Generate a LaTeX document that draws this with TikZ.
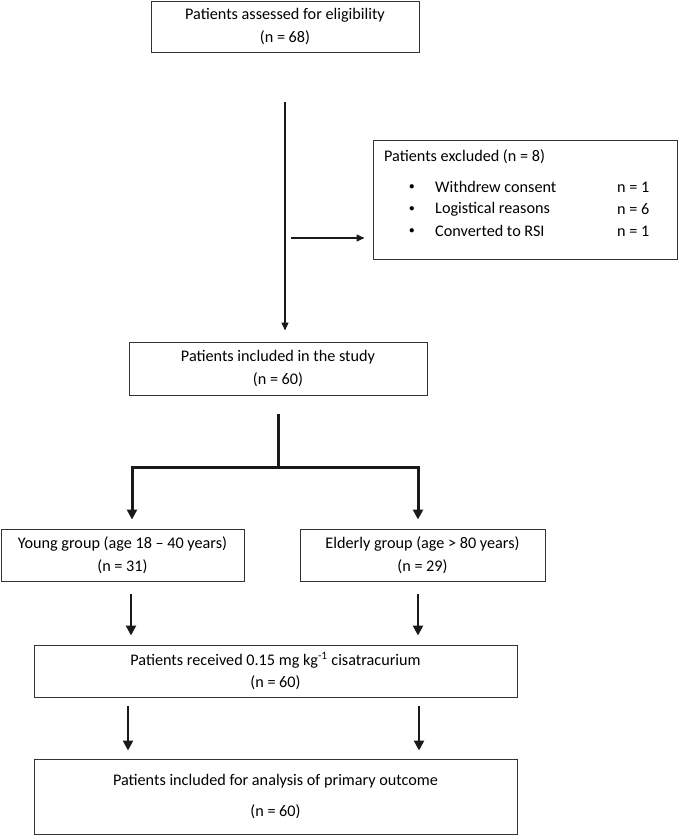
\documentclass[tikz,border=0pt]{standalone}
\usepackage{fontspec}
\setmainfont{Carlito}
\usetikzlibrary{arrows.meta,calc}
\newcommand{\fs}{\fontsize{16.2}{22.5}\selectfont}
\tikzset{
  box/.style={draw=black!80, line width=1pt, align=center, inner sep=0pt, font=\fs, text=black},
  lbl/.style={inner sep=0pt, anchor=west, font=\fs, text=black},
  thinarr/.style={line width=1.4pt, draw=black!90, -{Triangle[length=8pt,width=7pt]}},
  thickline/.style={line width=3pt, draw=black!90},
  thickarr/.style={line width=3pt, draw=black!90, -{Triangle[length=10pt,width=10pt]}},
  medarr/.style={line width=2.6pt, draw=black!90, -{Triangle[length=10pt,width=10pt]}},
}
\begin{document}
\begin{tikzpicture}[x=1pt,y=-1pt]
\useasboundingbox (0,0) rectangle (685,835);
% boxes
\node[box, minimum width=268pt, minimum height=51pt] (assess) at (285,26.5) {Patients assessed for eligibility\\(n = 68)};
\node[box, minimum width=304pt, minimum height=119pt] (excl) at (525,199.5) {};
\node[lbl] (exh) at (384,157) {Patients excluded (n = 8)};
\node[lbl, font=\fontsize{11}{12}\selectfont] (b1) at (409,187) {$\bullet$};
\node[lbl, font=\fontsize{11}{12}\selectfont] (b2) at (409,209) {$\bullet$};
\node[lbl, font=\fontsize{11}{12}\selectfont] (b3) at (409,231) {$\bullet$};
\node[lbl] (r1) at (435,187) {Withdrew consent};
\node[lbl] (r2) at (435,209) {Logistical reasons};
\node[lbl] (r3) at (435,231) {Converted to RSI};
\node[lbl] (n1) at (617,187) {n = 1};
\node[lbl] (n2) at (617,209) {n = 6};
\node[lbl] (n3) at (617,231) {n = 1};
\node[box, minimum width=298pt, minimum height=53pt] (incl) at (278,368.5) {Patients included in the study\\(n = 60)};
\node[box, minimum width=243pt, minimum height=52pt] (young) at (122.5,555) {Young group (age 18 – 40 years)\\(n = 31)};
\node[box, minimum width=245pt, minimum height=52pt] (old) at (422.5,555) {Elderly group (age > 80 years)\\(n = 29)};
\node[box, minimum width=483pt, minimum height=52pt] (recv) at (275.5,671) {Patients received 0.15 mg kg\textsuperscript{-1} cisatracurium\\(n = 60)};
\node[box, minimum width=483pt, minimum height=75pt] (final) at (275.5,796.5) {Patients included for analysis of primary outcome\\[9pt](n = 60)};
% connectors
\coordinate (t1) at (285,102);
\draw[thinarr, shorten >=11pt] (t1) -- (t1 |- incl.north);
\coordinate (e1) at (291,238);
\draw[thinarr, shorten >=8pt] (e1) -- (e1 -| excl.west);
\coordinate (br) at (278,467);
\coordinate (bl) at (132,467);
\coordinate (bq) at (418,467);
\draw[thickline, shorten <=18pt] (incl.south -| br) -- (br);
\draw[thickline] ($(bl)+(-1.5,0)$) -- ($(bq)+(1.5,0)$);
\draw[thickarr, shorten >=9pt] (bl) -- (bl |- young.north);
\draw[thickarr, shorten >=9pt] (bq) -- (bq |- old.north);
\coordinate (a1) at (131,594);
\coordinate (a2) at (418,594);
\draw[medarr, shorten >=9pt] (a1) -- (a1 |- recv.north);
\draw[medarr, shorten >=9pt] (a2) -- (a2 |- recv.north);
\coordinate (c1) at (128,706);
\coordinate (c2) at (419,706);
\draw[medarr, shorten >=8pt] (c1) -- (c1 |- final.north);
\draw[medarr, shorten >=8pt] (c2) -- (c2 |- final.north);
\end{tikzpicture}
\end{document}
